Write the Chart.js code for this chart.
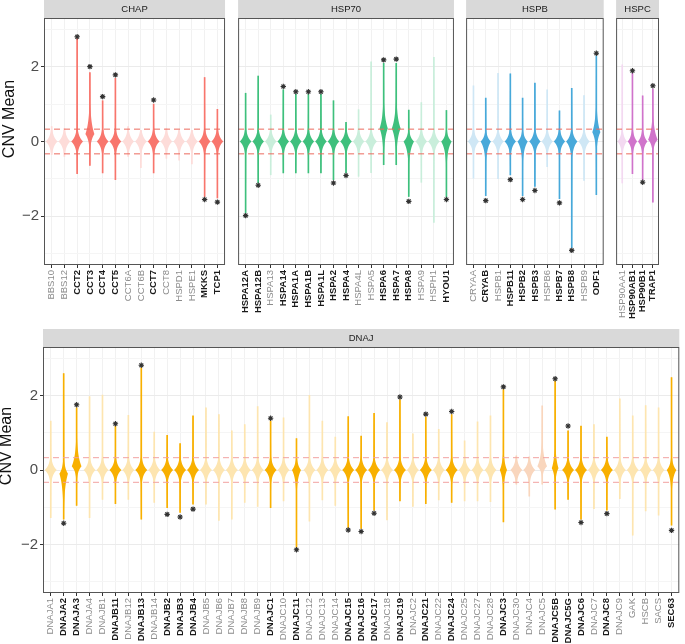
<!DOCTYPE html>
<html>
<head>
<meta charset="utf-8">
<script src="https://cdn.jsdelivr.net/npm/chart.js@4.4.1/dist/chart.umd.min.js"></script>
<style>
  body { margin: 0; background: #fff; }
  #wrap { position: relative; width: 685px; height: 644px; overflow: hidden; background: #fff; }
  #wrap canvas { position: absolute; }
</style>
</head>
<body>
<div id="wrap"></div>
<script>
// values: violin range (lo..hi) and the asterisk position (null = not significant)
const chapGenes = ['BBS10','BBS12','CCT2','CCT3','CCT4','CCT5','CCT6A','CCT6B','CCT7','CCT8','HSPD1','HSPE1','MKKS','TCP1'];
const chapHi = [0.4, 0.35, 2.76, 1.84, 1.09, 1.69, 0.4, 0.3, 1.0, 0.35, 0.3, 0.3, 1.71, 0.86];
const chapLo = [-0.35, -0.4, -0.86, -0.64, -0.84, -1.02, -0.4, -0.7, -0.84, -0.45, -0.5, -0.6, -1.47, -1.51];
const chapStar = [null, null, 2.8, 2.0, 1.2, 1.78, null, null, 1.11, null, null, null, -1.55, -1.62];

const hsp70Genes = ['HSPA12A','HSPA12B','HSPA13','HSPA14','HSPA1A','HSPA1B','HSPA1L','HSPA2','HSPA4','HSPA4L','HSPA5','HSPA6','HSPA7','HSPA8','HSPA9','HSPH1','HYOU1'];
const hsp70Hi = [1.29, 1.75, 0.71, 1.38, 1.26, 1.26, 1.26, 1.09, 0.51, 0.85, 2.13, 2.09, 2.09, 0.84, 1.04, 2.25, 0.83];
const hsp70Lo = [-1.91, -1.11, -0.89, -0.84, -0.84, -0.84, -0.84, -1.02, -0.84, -0.93, -0.83, -0.62, -0.62, -1.47, -1.09, -2.16, -1.48];
const hsp70Star = [-1.98, -1.17, null, 1.47, 1.33, 1.33, 1.33, -1.11, -0.91, null, null, 2.18, 2.2, -1.6, null, null, -1.55];

const hspbGenes = ['CRYAA','CRYAB','HSPB1','HSPB11','HSPB2','HSPB3','HSPB6','HSPB7','HSPB8','HSPB9','ODF1'];
const hspbHi = [1.49, 1.16, 1.82, 1.81, 1.16, 1.56, 1.38, 0.82, 1.42, 1.23, 2.29];
const hspbLo = [-0.98, -1.45, -0.99, -0.89, -1.45, -1.2, -0.67, -1.53, -2.84, -1.04, -1.42];
const hspbStar = [null, -1.58, null, -1.02, -1.55, -1.31, null, -1.64, -2.91, null, 2.36];

const hspcGenes = ['HSP90AA1','HSP90AB1','HSP90B1','TRAP1'];
const hspcHi = [2.05, 1.82, 1.22, 1.4];
const hspcLo = [-1.11, -0.86, -1.02, -1.62];
const hspcStar = [null, 1.89, -1.09, 1.49];

const dnajGenes = ['DNAJA1','DNAJA2','DNAJA3','DNAJA4','DNAJB1','DNAJB11','DNAJB12','DNAJB13','DNAJB14','DNAJB2','DNAJB3','DNAJB4','DNAJB5','DNAJB6','DNAJB7','DNAJB8','DNAJB9','DNAJC1','DNAJC10','DNAJC11','DNAJC12','DNAJC13','DNAJC14','DNAJC15','DNAJC16','DNAJC17','DNAJC18','DNAJC19','DNAJC2','DNAJC21','DNAJC22','DNAJC24','DNAJC25','DNAJC27','DNAJC28','DNAJC3','DNAJC30','DNAJC4','DNAJC5','DNAJC5B','DNAJC5G','DNAJC6','DNAJC7','DNAJC8','DNAJC9','GAK','HSCB','SACS','SEC63'];
const dnajHi = [1.31, 2.59, 1.67, 1.97, 2.01, 1.18, 1.47, 2.74, 1.02, 0.93, 0.71, 1.45, 1.67, 1.49, 1.05, 1.22, 1.7, 1.31, 1.4, 0.84, 2.0, 1.31, 0.88, 1.43, 0.91, 1.52, 1.27, 1.88, 0.97, 1.42, 1.09, 1.49, 0.78, 1.29, 1.45, 2.16, 0.38, 0.35, 1.72, 2.39, 1.05, 1.18, 1.22, 0.88, 1.91, 1.45, 1.73, 1.67, 2.48];
const dnajLo = [-1.28, -1.32, -0.95, -1.28, -0.79, -0.9, -0.79, -1.32, -0.87, -1.01, -1.14, -0.92, -0.92, -1.35, -1.32, -0.87, -0.98, -1.01, -0.83, -2.08, -1.37, -0.8, -0.95, -1.55, -1.57, -1.08, -1.34, -0.83, -0.98, -0.9, -0.8, -0.87, -0.83, -0.83, -0.85, -1.39, -0.38, -0.7, -0.38, -1.05, -0.79, -1.32, -1.04, -1.08, -0.77, -1.75, -1.1, -1.21, -1.48];
const dnajStar = [null, -1.43, 1.75, null, null, 1.24, null, 2.81, null, -1.19, -1.26, -1.05, null, null, null, null, null, 1.39, null, -2.14, null, null, null, -1.61, -1.65, -1.16, null, 1.96, null, 1.5, null, 1.57, null, null, null, 2.23, null, null, null, 2.45, 1.18, -1.41, null, -1.17, null, null, null, null, -1.62];

const yTicks = [-3, -2, -1, 0, 1, 2, 3];
const cnvCut = 0.33;

// violins whose bulk is not a plain spike at 0: [centre, spread up, spread down, width factor]
const bodyShape = {
  CCT3: [0.2, 0.35, 0.18, 0.75], HSPA6: [0.35, 0.32, 0.28, 0.7], HSPA7: [0.35, 0.32, 0.28, 0.75],
  ODF1: [0.25, 0.32, 0.22, 0.7], TRAP1: [0.05, 0.28, 0.14, 1], HSPA8: [0, 0.13, 0.24, 0.9],
  HYOU1: [0, 0.13, 0.24, 0.9], CRYAB: [0, 0.13, 0.22, 0.9], HSPB2: [0, 0.13, 0.22, 0.9],
  HSPB8: [0, 0.15, 0.18, 1], DNAJA3: [0.1, 0.32, 0.15, 0.8], DNAJA2: [-0.1, 0.18, 0.38, 0.7],
  DNAJC5: [0.1, 0.28, 0.12, 0.8], DNAJC3: [0, 0.22, 0.22, 0.6], DNAJC5B: [0.05, 0.28, 0.18, 0.55],
  DNAJC11: [0, 0.15, 0.24, 0.75], SEC63: [0, 0.15, 0.22, 0.8]
};

Chart.defaults.font.family = '"Liberation Sans", Arial, sans-serif';

const facetPlugin = {
  id: 'facet',
  beforeDraw(chart, args, opt) {
    const { ctx, chartArea: a } = chart;
    ctx.save();
    ctx.fillStyle = '#d9d9d9';
    ctx.fillRect(a.left, a.top - 18, a.right - a.left, 18);
    ctx.fillStyle = '#1a1a1a';
    ctx.font = '9.5px "Liberation Sans", Arial, sans-serif';
    ctx.textAlign = 'center';
    ctx.textBaseline = 'middle';
    ctx.fillText(opt.title, (a.left + a.right) / 2, a.top - 9);
    if (opt.yTitle) {
      ctx.translate(opt.yTitleX, opt.yTitleY);
      ctx.rotate(-Math.PI / 2);
      ctx.font = '16px "Liberation Sans", Arial, sans-serif';
      ctx.fillStyle = '#111';
      ctx.fillText('CNV Mean', 0, 0);
    }
    ctx.restore();
  },
  afterDatasetDraw(chart, args, opt) {
    if (args.meta.type !== 'bar') return;
    const { ctx } = chart;
    const xs = chart.scales.x, ys = chart.scales.y;
    const unit = xs.getPixelForValue(1) - xs.getPixelForValue(0);
    const colors = chart.data.datasets[args.index].backgroundColor;
    ctx.save();
    opt.genes.forEach((g, i) => {
      const lo = opt.lo[i], hi = opt.hi[i];
      const [c, su, sd, wf] = bodyShape[g] || [0, 0.15, 0.15, 1];
      const W = 0.47 * unit * wf;
      const cx = xs.getPixelForValue(i);
      const half = v => {
        const d = v - c;
        const body = d >= 0 ? W * Math.exp(-d / su) : W * Math.exp(d / sd);
        const frac = d >= 0 ? d / Math.max(hi - c, 0.01) : d / Math.min(lo - c, -0.01);
        const tail = 0.6 * (1 - 0.55 * Math.min(frac, 1));
        return Math.max(body, tail);
      };
      const vals = [];
      for (let v = lo; v < hi; v += 0.01) vals.push(v);
      vals.push(hi);
      ctx.beginPath();
      vals.forEach((v, k) => {
        const px = cx + half(v), py = ys.getPixelForValue(v);
        k ? ctx.lineTo(px, py) : ctx.moveTo(px, py);
      });
      for (let k = vals.length - 1; k >= 0; k--) {
        ctx.lineTo(cx - half(vals[k]), ys.getPixelForValue(vals[k]));
      }
      ctx.closePath();
      ctx.fillStyle = colors[i];
      ctx.fill();
    });
    ctx.restore();
  },
  afterDraw(chart) {
    const { ctx, chartArea: a } = chart;
    ctx.save();
    ctx.strokeStyle = '#555';
    ctx.lineWidth = 1;
    ctx.strokeRect(a.left + 0.5, a.top + 0.5, a.right - a.left - 1, a.bottom - a.top - 1);
    ctx.restore();
  }
};

const wrap = document.getElementById('wrap');

function makePanel(p) {
  const n = p.genes.length;
  const cv = document.createElement('canvas');
  cv.width = p.w; cv.height = p.h;
  cv.style.left = p.x + 'px'; cv.style.top = p.y + 'px';
  wrap.appendChild(cv);

  const sig = p.star.map(s => s !== null);
  const cols = p.genes.map((g, i) => sig[i] ? p.color : ((p.tint || []).includes(g) ? p.tintColor : p.faded));
  const stars = [];
  p.star.forEach((s, i) => { if (s !== null) stars.push({ x: i, y: s }); });

  new Chart(cv, {
    type: 'bar',
    data: {
      datasets: [
        { type: 'scatter', data: stars, pointStyle: 'star', pointRadius: 2.7, borderColor: '#333', borderWidth: 1.1, order: 0 },
        { type: 'line', data: [{ x: -0.6, y: cnvCut }, { x: n - 0.4, y: cnvCut }], borderColor: p.cutColor, borderWidth: 1, borderDash: [6, 4], pointRadius: 0, order: 1 },
        { type: 'line', data: [{ x: -0.6, y: -cnvCut }, { x: n - 0.4, y: -cnvCut }], borderColor: p.cutColor, borderWidth: 1, borderDash: [6, 4], pointRadius: 0, order: 1 },
        { type: 'bar', data: p.genes.map((g, i) => ({ x: i, y: [p.lo[i], p.hi[i]] })), backgroundColor: cols, barThickness: 1, grouped: false, order: 3 }
      ]
    },
    options: {
      responsive: false,
      animation: false,
      devicePixelRatio: 1,
      layout: { padding: { top: 18, right: 1, left: p.padLeft, bottom: 0 } },
      plugins: {
        legend: { display: false },
        tooltip: { enabled: false },
        facet: { title: p.title, genes: p.genes, lo: p.lo, hi: p.hi, yTitle: p.yTitle, yTitleX: p.yTitleX, yTitleY: p.yTitleY }
      },
      scales: {
        x: {
          type: 'linear', min: -0.6, max: n - 0.4, offset: false,
          afterBuildTicks: s => { s.ticks = p.genes.map((g, i) => ({ value: i })); },
          afterFit: s => { s.height = p.xh; },
          ticks: {
            autoSkip: false, minRotation: 90, maxRotation: 90, padding: 2,
            callback: v => p.genes[v],
            font: c => ({ size: 9.5, weight: sig[c.index] ? 'bold' : 'normal' }),
            color: c => sig[c.index] ? '#1a1a1a' : '#8c8c8c'
          },
          grid: { offset: false, color: '#f1f1f1', tickColor: '#333', tickLength: 3 },
          border: { display: false }
        },
        y: {
          min: -3.3, max: 3.3,
          afterBuildTicks: s => { s.ticks = yTicks.map(v => ({ value: v })); },
          afterFit: s => { s.width = p.yw; },
          ticks: {
            display: p.showY, padding: 2, color: '#4d4d4d', font: { size: 15 },
            callback: v => v % 2 === 0 ? (v < 0 ? '\u2212' + (-v) : String(v)) : ''
          },
          grid: {
            color: c => c.tick && c.tick.value % 2 === 0 ? '#ebebeb' : '#f5f5f5',
            tickColor: c => c.tick && c.tick.value % 2 === 0 ? '#333' : 'rgba(0,0,0,0)',
            tickLength: 3, drawTicks: p.showY
          },
          border: { display: false }
        }
      }
    },
    plugins: [facetPlugin]
  });
}

const topCut = '#ec6a5e';
makePanel({ title: 'CHAP', genes: chapGenes, lo: chapLo, hi: chapHi, star: chapStar,
  color: '#f8766d', faded: '#fddcd9', cutColor: topCut,
  x: 0, y: 0, w: 231, h: 320, padLeft: 0, yw: 44, xh: 55, showY: true,
  yTitle: true, yTitleX: 10, yTitleY: 119 });
makePanel({ title: 'HSP70', genes: hsp70Genes, lo: hsp70Lo, hi: hsp70Hi, star: hsp70Star,
  color: '#3fc07d', faded: '#c9eedb', cutColor: topCut,
  x: 233, y: 0, w: 227, h: 320, padLeft: 1, yw: 0, xh: 55, showY: false });
makePanel({ title: 'HSPB', genes: hspbGenes, lo: hspbLo, hi: hspbHi, star: hspbStar,
  color: '#48a9da', faded: '#cfe7f5', cutColor: topCut,
  x: 461, y: 0, w: 149, h: 320, padLeft: 1, yw: 0, xh: 55, showY: false });
makePanel({ title: 'HSPC', genes: hspcGenes, lo: hspcLo, hi: hspcHi, star: hspcStar,
  color: '#d074cb', faded: '#f3d9f1', cutColor: topCut,
  x: 611, y: 0, w: 56, h: 320, padLeft: 1, yw: 0, xh: 55, showY: false });
makePanel({ title: 'DNAJ', genes: dnajGenes, lo: dnajLo, hi: dnajHi, star: dnajStar,
  color: '#f8b000', faded: '#fde5b0', tint: ['DNAJC30', 'DNAJC4', 'DNAJC5'], tintColor: '#f9d6bd',
  cutColor: '#f2a2a0',
  x: 0, y: 329, w: 685, h: 315, padLeft: 0, yw: 43, xh: 51, showY: true,
  yTitle: true, yTitleX: 7, yTitleY: 117 });
</script>
</body>
</html>
